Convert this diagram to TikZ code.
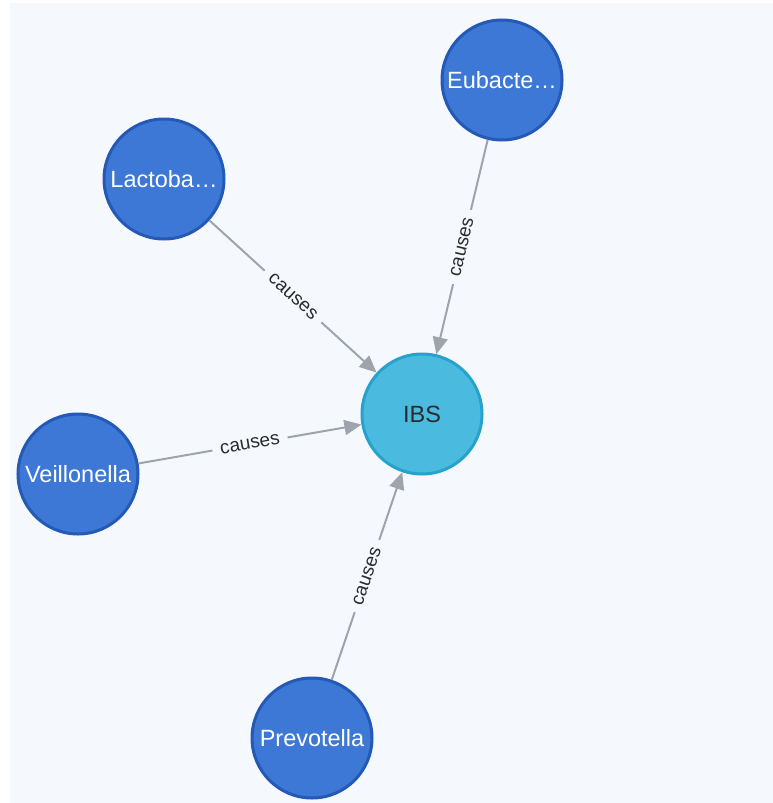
\documentclass[tikz,border=0pt]{standalone}
\usepackage{fontspec}
\setmainfont{Liberation Sans}
\usetikzlibrary{arrows.meta}

\definecolor{canvas}{HTML}{F5F9FE}
\definecolor{taxfill}{HTML}{3D78D6}
\definecolor{taxline}{HTML}{2459B6}
\definecolor{disfill}{HTML}{4BBADF}
\definecolor{disline}{HTML}{27A2CC}
\definecolor{edgegray}{HTML}{9FA3AC}
\definecolor{labeltext}{HTML}{2B2B2B}

\tikzset{
  taxon/.style={circle, minimum size=120pt, inner sep=0pt, line width=3pt,
    draw=taxline, fill=taxfill, text=white,
    font=\fontsize{23.5pt}{27pt}\selectfont},
  disease/.style={circle, minimum size=120pt, inner sep=0pt, line width=3pt,
    draw=disline, fill=disfill, text=labeltext,
    font=\fontsize{23.5pt}{27pt}\selectfont},
  relation/.style={draw=edgegray, line width=2pt,
    -{Triangle[length=17pt, width=15pt]}},
  rellabel/.style={sloped, midway, fill=canvas, inner xsep=8pt, inner ysep=2pt,
    text=labeltext, font=\fontsize{19pt}{22pt}\selectfont}
}

\begin{document}
\begin{tikzpicture}[x=1pt, y=1pt]
  \useasboundingbox (0,0) rectangle (773,-803);
  \fill[canvas] (10,-3) rectangle (776,-808);

  \node[disease] (ibs) at (422,-414) {IBS};
  \node[taxon] (eub) at (502,-80) {Eubacte…};
  \node[taxon] (lac) at (164,-179) {Lactoba…};
  \node[taxon] (vei) at (78,-474) {Veillonella};
  \node[taxon] (pre) at (312,-738) {Prevotella};

  \draw[relation] (lac) -- node[rellabel] {causes} (ibs);
  \draw[relation] (eub) -- node[rellabel] {causes} (ibs);
  \draw[relation] (vei) -- node[rellabel] {causes} (ibs);
  \draw[relation] (pre) -- node[rellabel] {causes} (ibs);
\end{tikzpicture}
\end{document}
